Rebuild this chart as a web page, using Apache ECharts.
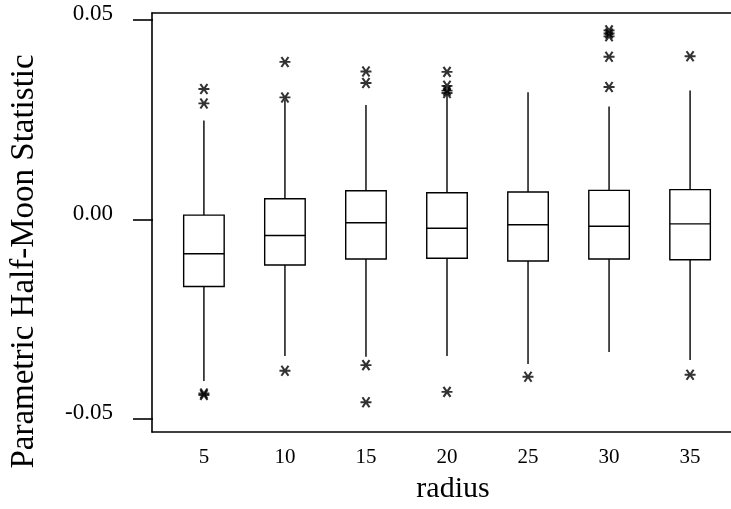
<!DOCTYPE html>
<html>
<head>
<meta charset="utf-8">
<script src="https://cdn.jsdelivr.net/npm/echarts@6/dist/echarts.min.js"></script>
<style>
  html, body { margin: 0; padding: 0; background: #fff; }
  #main { width: 731px; height: 509px; }
</style>
</head>
<body>
<div id="main"></div>
<script>
var radius = ['5', '10', '15', '20', '25', '30', '35'];
var whiskerLow = [-0.0405, -0.0342, -0.0344, -0.0342, -0.0362, -0.0332, -0.0352];
var q1 = [-0.0168, -0.0114, -0.0099, -0.0097, -0.0104, -0.0099, -0.0101];
var median = [-0.0086, -0.0040, -0.0008, -0.0022, -0.0013, -0.0017, -0.0011];
var q3 = [0.0011, 0.0052, 0.0072, 0.0067, 0.0069, 0.0073, 0.0075];
var whiskerHigh = [0.0248, 0.0300, 0.0287, 0.0314, 0.0319, 0.0283, 0.0323];
var outliers = [
  [0.0327, 0.0291, -0.0436, -0.0440],
  [0.0395, 0.0306, -0.0379],
  [0.0371, 0.0342, -0.0365, -0.0458],
  [0.0370, 0.0335, 0.0323, 0.0317, -0.0432],
  [-0.0394],
  [0.0474, 0.0466, 0.0459, 0.0408, 0.0332],
  [0.0409, -0.0389]
];

var font = 'Liberation Serif';

var boxData = radius.map(function (r, i) {
  return [i, whiskerLow[i], q1[i], median[i], q3[i], whiskerHigh[i]];
});
var outData = [];
outliers.forEach(function (list, i) {
  list.forEach(function (v) { outData.push([i, v]); });
});

// asterisk marker: horizontal bar plus an X
var star = 'path://M0,5L10,5M1.8,0.6L8.2,9.4M8.2,0.6L1.8,9.4';

function renderBox(params, api) {
  var x = api.value(0);
  var lo = api.coord([x, api.value(1)]);
  var b1 = api.coord([x, api.value(2)]);
  var md = api.coord([x, api.value(3)]);
  var b3 = api.coord([x, api.value(4)]);
  var hi = api.coord([x, api.value(5)]);
  var half = api.size([1, 0])[0] * 0.25;
  var st = { stroke: '#000', lineWidth: 1.4, fill: null };
  return {
    type: 'group',
    children: [
      { type: 'line', shape: { x1: lo[0], y1: lo[1], x2: b1[0], y2: b1[1] }, style: st },
      { type: 'line', shape: { x1: b3[0], y1: b3[1], x2: hi[0], y2: hi[1] }, style: st },
      { type: 'rect', shape: { x: b3[0] - half, y: b3[1], width: half * 2, height: b1[1] - b3[1] },
        style: { fill: '#fff', stroke: '#000', lineWidth: 1.4 } },
      { type: 'line', shape: { x1: md[0] - half, y1: md[1], x2: md[0] + half, y2: md[1] }, style: st }
    ]
  };
}

var frameLine = { show: true, lineStyle: { color: '#000', width: 1.6 } };
function frameAxis(pos) {
  return {
    gridIndex: 0, type: 'value', position: pos, min: 0, max: 1,
    axisLine: frameLine, axisTick: { show: false }, axisLabel: { show: false }, splitLine: { show: false }
  };
}

var chart = echarts.init(document.getElementById('main'));
chart.setOption({
  backgroundColor: '#fff',
  animation: false,
  grid: [
    // frame: left, top and bottom lines only
    { left: 152, top: 13, right: 0, bottom: 77 },
    { left: 162.4, top: 20, right: 0.4, bottom: 85 }
  ],
  xAxis: [
    frameAxis('bottom'),
    {
      gridIndex: 1,
      type: 'category',
      data: radius,
      offset: 8,
      name: 'radius',
      nameLocation: 'middle',
      nameGap: 47,
      nameTextStyle: { fontFamily: font, fontSize: 30, color: '#000', padding: [0, 0, 0, 12] },
      axisLine: { show: false },
      axisTick: { show: true, alignWithLabel: true, length: 14, lineStyle: { color: '#000', width: 1.6 } },
      axisLabel: { margin: 20, fontFamily: font, fontSize: 21, color: '#000' },
      splitLine: { show: false }
    },
    frameAxis('top')
  ],
  yAxis: [
    frameAxis('left'),
    {
      gridIndex: 1,
      type: 'value',
      min: -0.05,
      max: 0.05,
      interval: 0.05,
      offset: 10.4,
      name: 'Parametric Half-Moon Statistic',
      nameLocation: 'middle',
      nameGap: 112,
      nameTextStyle: { fontFamily: font, fontSize: 33, color: '#000', padding: [0, 84, 0, 0] },
      axisLine: { show: false },
      axisTick: { show: true, length: 20, lineStyle: { color: '#000', width: 1.6 } },
      axisLabel: {
        margin: 40,
        fontFamily: font,
        fontSize: 23,
        color: '#000',
        verticalAlign: 'bottom',
        lineHeight: 12,
        formatter: function (v) { return v.toFixed(2); }
      },
      splitLine: { show: false }
    }
  ],
  series: [
    {
      type: 'custom',
      xAxisIndex: 1,
      yAxisIndex: 1,
      renderItem: renderBox,
      data: boxData,
      silent: true
    },
    {
      type: 'scatter',
      xAxisIndex: 1,
      yAxisIndex: 1,
      data: outData,
      symbol: star,
      symbolSize: [11, 10],
      itemStyle: { color: 'rgba(0,0,0,0)', borderColor: '#000', borderWidth: 2 },
      silent: true
    }
  ]
});
</script>
</body>
</html>
